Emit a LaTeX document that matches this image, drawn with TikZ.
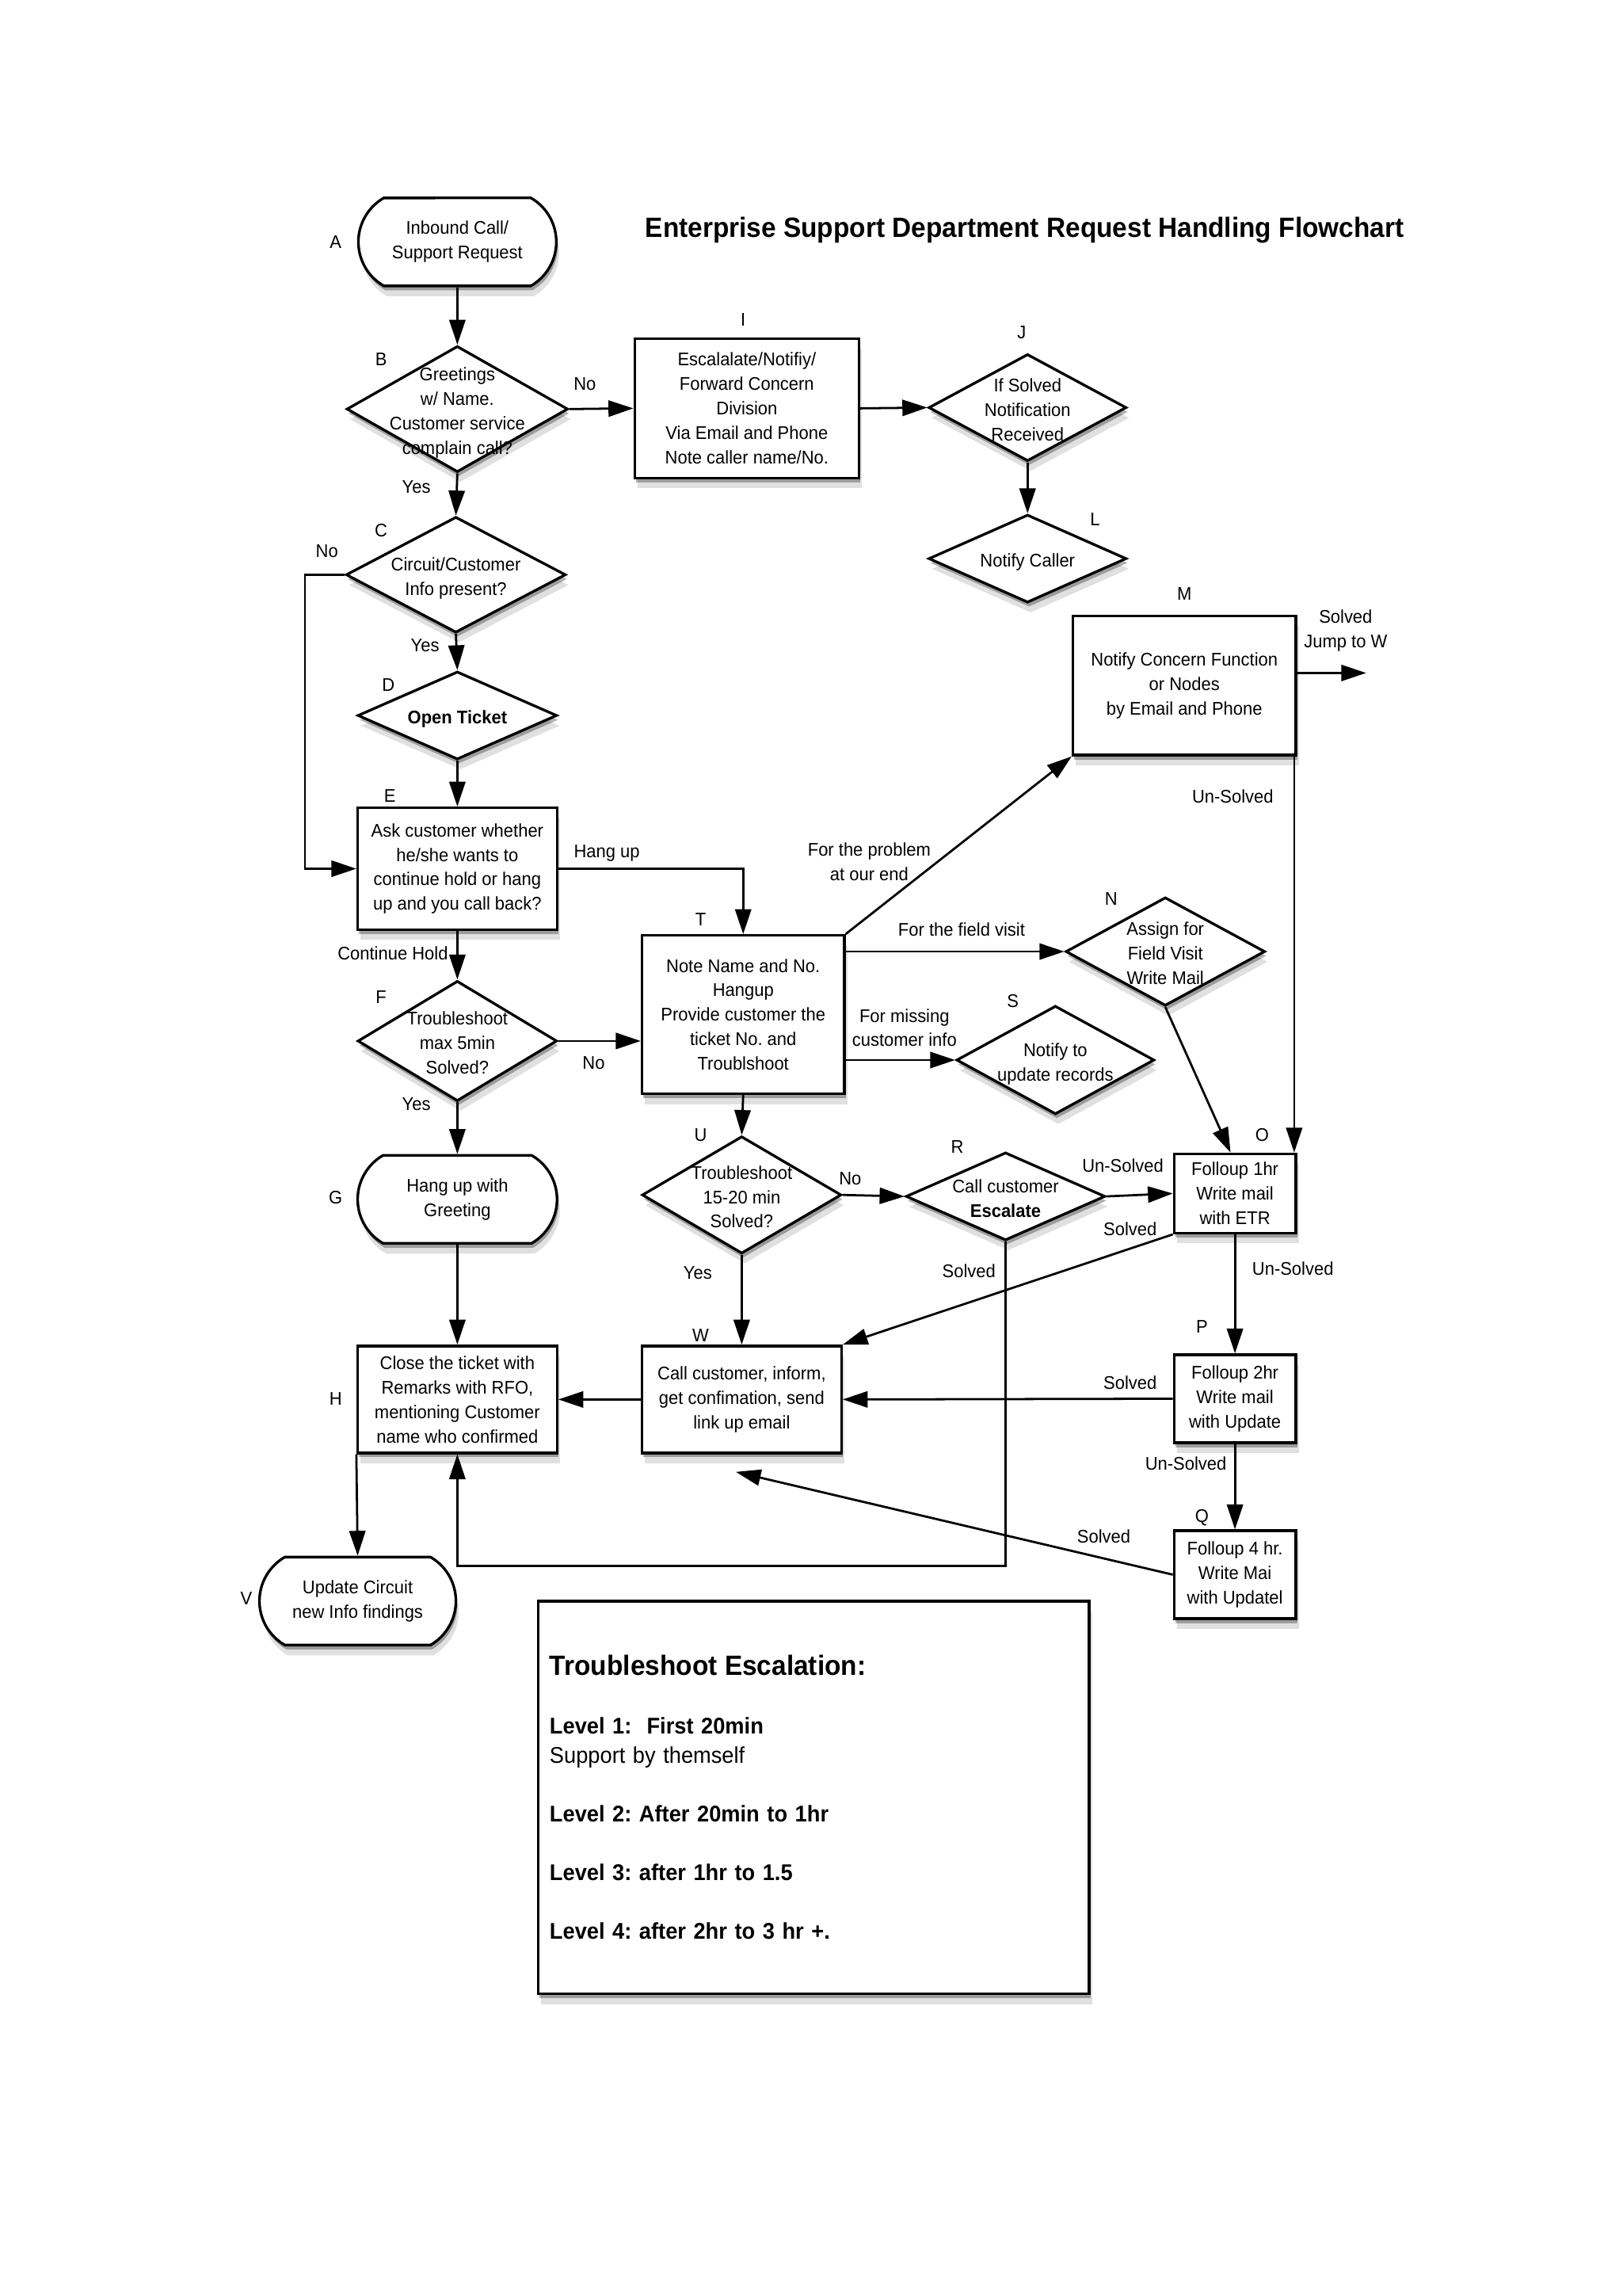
\documentclass[tikz,border=0pt]{standalone}
\usepackage{fontspec}
\setmainfont{Liberation Sans}[FakeStretch=0.95]
\usepackage{tikz}
\usetikzlibrary{shapes.geometric, shapes.misc, shadows, arrows.meta, calc}
\frenchspacing

% text of a diamond takes no room, so the diamond keeps its size
\newcommand{\flatbox}[1]{\makebox[0pt]{\raisebox{-0.5\height}[0pt][0pt]{\begin{tabular}[b]{@{}c@{}}#1\end{tabular}}}}

\begin{document}
\begin{tikzpicture}[x=1pt, y=-1pt,
    font=\fontsize{12.5}{16.7}\selectfont,
    boxshadow/.style={drop shadow={shadow xshift=1pt, shadow yshift=-3pt, opacity=0.3, fill=black},
                      drop shadow={shadow xshift=2pt, shadow yshift=-7pt, opacity=0.12, fill=black}},
    process/.style={rectangle, draw, line width=1.8pt, fill=white, align=center, inner sep=0pt, boxshadow},
    decision/.style={diamond, draw, line width=1.8pt, fill=white, inner sep=0pt, boxshadow},
    terminal/.style={rounded rectangle, rounded rectangle arc length=120, draw, line width=1.8pt, fill=white, align=center, inner sep=0pt, boxshadow},
    flow/.style={line width=1.5pt, -{Triangle[length=17pt, width=11pt]}},
    tag/.style={inner sep=0pt, align=center}]

    \path[fill=white, use as bounding box] (0,0) rectangle (1106.7,1566);

    \node[tag, font=\bfseries\fontsize{19}{22}\selectfont] (title) at (699,157) {Enterprise Support Department Request Handling Flowchart};

    % left column
    \node[terminal, minimum width=135, minimum height=60] (A) at (312,165) {Inbound Call/\\Support Request};
    \node[decision, minimum width=151, minimum height=86] (B) at (312,279) {\flatbox{Greetings\\w/ Name.\\Customer service\\complain call?}};
    \node[decision, minimum width=150, minimum height=79] (C) at (311,392) {\flatbox{Circuit/Customer\\Info present?}};
    \node[decision, minimum width=136, minimum height=60] (D) at (312,488) {\flatbox{\textbf{Open Ticket}}};
    \node[process, minimum width=136, minimum height=83] (E) at (312,592.5) {Ask customer whether\\he/she wants to\\continue hold or hang\\up and you call back?};
    \node[decision, minimum width=136, minimum height=82] (F) at (312,710) {\flatbox{Troubleshoot\\max 5min\\Solved?}};
    \node[terminal, minimum width=136, minimum height=60] (G) at (312,818) {Hang up with\\Greeting};
    \node[process, minimum width=136, minimum height=73] (H) at (312,954.5) {Close the ticket with\\Remarks with RFO,\\mentioning Customer\\name who confirmed};
    \node[terminal, minimum width=134, minimum height=60] (V) at (244,1092) {Update Circuit\\new Info findings};

    % middle column
    \node[process, minimum width=153, minimum height=95] (I) at (509.5,278.5) {Escalalate/Notifiy/\\Forward Concern\\Division\\Via Email and Phone\\Note caller name/No.};
    \node[process, minimum width=138, minimum height=108] (T) at (507,692) {Note Name and No.\\Hangup\\Provide customer the\\ticket No. and\\Troublshoot};
    \node[decision, minimum width=136, minimum height=80] (U) at (506,815) {\flatbox{Troubleshoot\\15-20 min\\Solved?}};
    \node[process, minimum width=136, minimum height=73] (W) at (506,954.5) {Call customer, inform,\\get confimation, send\\link up email};

    % right columns
    \node[decision, minimum width=135, minimum height=73] (J) at (701,278) {\flatbox{If Solved\\Notification\\Received}};
    \node[decision, minimum width=135, minimum height=60] (L) at (701,381) {\flatbox{Notify Caller}};
    \node[process, minimum width=152, minimum height=95] (M) at (808,467.5) {Notify Concern Function\\or Nodes\\by Email and Phone};
    \node[decision, minimum width=136, minimum height=74] (N) at (795,649) {\flatbox{Assign for\\Field Visit\\Write Mail}};
    \node[decision, minimum width=135, minimum height=74] (S) at (720,723) {\flatbox{Notify to\\update records}};
    \node[decision, minimum width=136, minimum height=60] (R) at (686,816) {\flatbox{Call customer\\\textbf{Escalate}}};
    \node[process, minimum width=83, minimum height=54] (O) at (842.5,814) {Folloup 1hr\\Write mail\\with ETR};
    \node[process, minimum width=83, minimum height=60] (P) at (842.5,954) {Folloup 2hr\\Write mail\\with Update};
    \node[process, minimum width=83, minimum height=60] (Q) at (842.5,1074) {Folloup 4 hr.\\Write Mai\\with Updatel};
    \coordinate (jumpW) at (932,459);

    % escalation levels
    \node[process, minimum width=376, minimum height=268, text width=360, align=left,
          font=\fontsize{15.5}{20}\selectfont] (levels) at (555,1226) {%
        {\bfseries\fontsize{19}{23}\selectfont Troubleshoot Escalation:}\\[20pt]
        \textbf{Level 1:\ \ First 20min}\\
        Support by themself\\[20pt]
        \textbf{Level 2: After 20min to 1hr}\\[20pt]
        \textbf{Level 3: after 1hr to 1.5}\\[20pt]
        \textbf{Level 4: after 2hr to 3 hr +.}};

    % letters
    \node[tag] (lA) at (229,165) {A};
    \node[tag] (lB) at (260,245) {B};
    \node[tag] (lC) at (260,362) {C};
    \node[tag] (lD) at (265,467) {D};
    \node[tag] (lE) at (266,543) {E};
    \node[tag] (lF) at (260,680) {F};
    \node[tag] (lG) at (229,817) {G};
    \node[tag] (lH) at (229,954) {H};
    \node[tag] (lV) at (168,1090) {V};
    \node[tag] (lI) at (507,218) {I};
    \node[tag] (lJ) at (697,227) {J};
    \node[tag] (lL) at (747,354) {L};
    \node[tag] (lM) at (808,405) {M};
    \node[tag] (lN) at (758,613) {N};
    \node[tag] (lS) at (691,683) {S};
    \node[tag] (lT) at (478,627) {T};
    \node[tag] (lU) at (478,774) {U};
    \node[tag] (lR) at (653,782) {R};
    \node[tag] (lO) at (861,774) {O};
    \node[tag] (lW) at (478,911) {W};
    \node[tag] (lP) at (820,905) {P};
    \node[tag] (lQ) at (820,1035) {Q};

    % connectors
    \draw[flow] (A.south) -- (B.north);
    \draw[flow] (B.east) -- (I.west);
    \draw[flow] (I.east) -- (J.west);
    \draw[flow] (J.south) -- (L.north);
    \draw[flow] (B.south) -- (C.north);
    \draw[flow] (C.west) -- ++(-27,0) |- (E.west);
    \draw[flow] (C.south) -- (D.north);
    \draw[flow] (D.south) -- (E.north);
    \draw[flow] (E.east) -| (T.north);
    \draw[flow] (E.south) -- (F.north);
    \draw[flow] (F.east) -- (F.east -| T.west);
    \draw[flow] (F.south) -- (G.north);
    \draw[flow] (G.south) -- (H.north);
    \draw[flow] (H.south west) -- (V.north);
    \draw[flow] (T.north east) -- (M.south west);
    \draw[flow] (M.east |- jumpW) -- (jumpW);
    \draw[flow] ($(M.south east)+(-2,0)$) -- ($(O.north east)+(-2,0)$);
    \draw[flow] (T.east |- N.west) -- (N.west);
    \draw[flow] (T.east |- S.west) -- (S.west);
    \draw[flow] (N.south) -- ($(O.north)+(-3,0)$);
    \draw[flow] (T.south) -- (U.north);
    \draw[flow] (U.south) -- (W.north);
    \draw[flow] (U.east) -- (R.west);
    \draw[flow] (R.east) -- (O.west);
    \draw[flow] (R.south) -- ++(0,221) -| (H.south);
    \draw[flow] (O.south west) -- (W.north east);
    \draw[flow] (O.south) -- (P.north);
    \draw[flow] (P.west) -- (W.east);
    \draw[flow] (P.south) -- (Q.north);
    \draw[flow] (Q.west) -- ($(W.south)+(-4,12)$);
    \draw[flow] (W.west) -- (H.east);

    % connector texts
    \node[tag] (noB) at (399,262) {No};
    \node[tag] (yesB) at (284,332) {Yes};
    \node[tag] (noC) at (223,376) {No};
    \node[tag] (yesC) at (290,440) {Yes};
    \node[tag] (hangE) at (414,582) {Hang up};
    \node[tag] (holdE) at (268,650) {Continue Hold};
    \node[tag] (noF) at (405,725) {No};
    \node[tag] (yesF) at (284,753) {Yes};
    \node[tag] (ourT) at (593,588) {For the problem\\at our end};
    \node[tag] (fieldT) at (656,634) {For the field visit};
    \node[tag] (infoT) at (617,701) {For missing\\customer info};
    \node[tag] (jumpM) at (918,430) {Solved\\Jump to W};
    \node[tag] (unM) at (841,543) {Un-Solved};
    \node[tag] (noU) at (580,804) {No};
    \node[tag] (yesU) at (476,868) {Yes};
    \node[tag] (unR) at (766,795) {Un-Solved};
    \node[tag] (solR) at (661,867) {Solved};
    \node[tag] (solO) at (771,838) {Solved};
    \node[tag] (unO) at (882,865) {Un-Solved};
    \node[tag] (solP) at (771,943) {Solved};
    \node[tag] (unP) at (809,998) {Un-Solved};
    \node[tag] (solQ) at (753,1048) {Solved};
\end{tikzpicture}
\end{document}
